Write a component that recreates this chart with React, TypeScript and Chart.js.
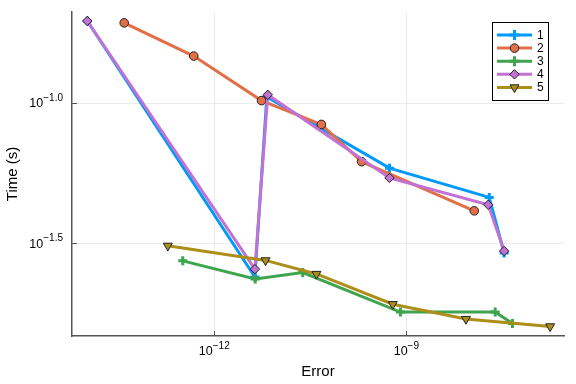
import React, { useEffect, useRef } from "react";
import { Chart, registerables } from "chart.js";

Chart.register(...registerables);

// ---- data (Error, Time) ----
const seriesLabels = ["1", "2", "3", "4", "5"];

const s1Err = [1.04e-14, 4.31e-12, 6.62e-12, 5.46e-10, 1.97e-8, 3.37e-8];
const s1Time = [0.196, 0.024, 0.105, 0.0586, 0.0461, 0.0292];

const s2Err = [3.92e-14, 4.78e-13, 5.47e-12, 4.71e-11, 2.0e-10, 1.15e-8];
const s2Time = [0.193, 0.147, 0.102, 0.0839, 0.0618, 0.0413];

const s3Err = [3.22e-13, 4.36e-12, 2.41e-11, 8.09e-10, 2.44e-8, 4.54e-8];
const s3Time = [0.0274, 0.0236, 0.0249, 0.018, 0.018, 0.0164];

const s4Err = [1.04e-14, 4.31e-12, 6.85e-12, 5.46e-10, 1.9e-8, 3.37e-8];
const s4Time = [0.196, 0.0256, 0.107, 0.0541, 0.0434, 0.0297];

const s5Err = [1.88e-13, 6.32e-12, 3.94e-11, 6.14e-10, 8.53e-9, 1.76e-7];
const s5Time = [0.031, 0.0275, 0.0246, 0.0192, 0.017, 0.016];

const xTicks = [1e-12, 1e-9];
const xTickBase = ["10", "10"];
const xTickExp = ["\u221212", "\u22129"];
const yTicks = [Math.pow(10, -1.0), Math.pow(10, -1.5)];
const yTickBase = ["10", "10"];
const yTickExp = ["\u22121.0", "\u22121.5"];

const xMin = 6.3e-15;
const xMax = 2.9e-7;
const yMin = 0.01479;
const yMax = 0.211;

const xTitle = "Error";
const yTitle = "Time (s)";

const FONT = '"Liberation Sans", "DejaVu Sans", sans-serif';
const colors = ["#009AFA", "#E36F47", "#3EA44E", "#C371D2", "#AC8E18"];
const markers = ["cross", "circle", "cross", "rectRot", "triangle"];
const axisColor = "#555555";
const BASE_PX = 12.5;
const EXP_PX = 10;

function zip(xs: number[], ys: number[]) {
  return xs.map((x, i) => ({ x, y: ys[i] }));
}

function drawMarker(ctx: CanvasRenderingContext2D, kind: string, x: number, y: number, color: string) {
  ctx.save();
  ctx.fillStyle = color;
  ctx.strokeStyle = "#222";
  ctx.lineWidth = 1;
  if (kind === "cross") {
    ctx.strokeStyle = color;
    ctx.lineWidth = 3;
    ctx.beginPath();
    ctx.moveTo(x - 5, y);
    ctx.lineTo(x + 5, y);
    ctx.moveTo(x, y - 5);
    ctx.lineTo(x, y + 5);
    ctx.stroke();
  } else if (kind === "circle") {
    ctx.beginPath();
    ctx.arc(x, y, 4.3, 0, Math.PI * 2);
    ctx.fill();
    ctx.stroke();
  } else if (kind === "rectRot") {
    const r = 4.7;
    ctx.beginPath();
    ctx.moveTo(x, y - r);
    ctx.lineTo(x + r, y);
    ctx.lineTo(x, y + r);
    ctx.lineTo(x - r, y);
    ctx.closePath();
    ctx.fill();
    ctx.stroke();
  } else if (kind === "triangle") {
    const r = 5.2;
    ctx.beginPath();
    ctx.moveTo(x, y + r);
    ctx.lineTo(x + r * 0.866, y - r * 0.5);
    ctx.lineTo(x - r * 0.866, y - r * 0.5);
    ctx.closePath();
    ctx.fill();
    ctx.stroke();
  }
  ctx.restore();
}

const overlayPlugin = {
  id: "overlay",
  afterDraw(chart: any) {
    const ctx: CanvasRenderingContext2D = chart.ctx;
    const { left, right, top, bottom } = chart.chartArea;
    const xs = chart.scales.x;
    const ys = chart.scales.y;
    ctx.save();

    // inward tick marks
    ctx.strokeStyle = axisColor;
    ctx.lineWidth = 1;
    ctx.beginPath();
    xTicks.forEach((v) => {
      const px = Math.round(xs.getPixelForValue(v)) + 0.5;
      ctx.moveTo(px, bottom);
      ctx.lineTo(px, bottom - 5);
    });
    yTicks.forEach((v) => {
      const py = Math.round(ys.getPixelForValue(v)) + 0.5;
      ctx.moveTo(left, py);
      ctx.lineTo(left + 5, py);
    });
    ctx.stroke();

    // tick labels
    ctx.fillStyle = "#000";
    ctx.textBaseline = "middle";
    xTicks.forEach((v, i) => {
      const px = xs.getPixelForValue(v);
      ctx.font = `${BASE_PX}px ${FONT}`;
      const w1 = ctx.measureText(xTickBase[i]).width;
      ctx.font = `${EXP_PX}px ${FONT}`;
      const w2 = ctx.measureText(xTickExp[i]).width;
      const start = px - (w1 + w2) / 2;
      ctx.textAlign = "left";
      ctx.font = `${BASE_PX}px ${FONT}`;
      ctx.fillText(xTickBase[i], start, bottom + 16);
      ctx.font = `${EXP_PX}px ${FONT}`;
      ctx.fillText(xTickExp[i], start + w1, bottom + 10);
    });
    yTicks.forEach((v, i) => {
      const py = ys.getPixelForValue(v);
      ctx.font = `${EXP_PX}px ${FONT}`;
      const w2 = ctx.measureText(yTickExp[i]).width;
      const end = left - 9;
      ctx.textAlign = "left";
      ctx.fillText(yTickExp[i], end - w2, py - 5);
      ctx.font = `${BASE_PX}px ${FONT}`;
      ctx.textAlign = "right";
      ctx.fillText(yTickBase[i], end - w2, py + 1);
    });

    // axis titles
    ctx.font = `15px ${FONT}`;
    ctx.textAlign = "center";
    ctx.fillText(xTitle, (left + right) / 2, 372);
    ctx.save();
    ctx.translate(13, (top + bottom) / 2);
    ctx.rotate(-Math.PI / 2);
    ctx.fillText(yTitle, 0, 0);
    ctx.restore();

    // legend
    const bx = 492.5, by = 22.5, bw = 56, bh = 78;
    ctx.fillStyle = "#fff";
    ctx.fillRect(bx, by, bw, bh);
    ctx.strokeStyle = "#000";
    ctx.lineWidth = 1;
    ctx.strokeRect(bx, by, bw, bh);
    seriesLabels.forEach((lab, i) => {
      const ry = 35 + i * 13.1;
      ctx.strokeStyle = colors[i];
      ctx.lineWidth = 3;
      ctx.beginPath();
      ctx.moveTo(497, ry);
      ctx.lineTo(532, ry);
      ctx.stroke();
      drawMarker(ctx, markers[i], 514.5, ry, colors[i]);
      ctx.fillStyle = "#000";
      ctx.font = `12px ${FONT}`;
      ctx.textAlign = "left";
      ctx.textBaseline = "middle";
      ctx.fillText(lab, 537, ry + 0.5);
    });

    ctx.restore();
  },
};

export default function App() {
  const ref = useRef<HTMLCanvasElement | null>(null);

  useEffect(() => {
    if (!ref.current) return;
    const series = [
      zip(s1Err, s1Time),
      zip(s2Err, s2Time),
      zip(s3Err, s3Time),
      zip(s4Err, s4Time),
      zip(s5Err, s5Time),
    ];
    const datasets = series.map((data, i) => {
      const m = markers[i];
      const isCross = m === "cross";
      return {
        label: seriesLabels[i],
        data,
        order: 4 - i,
        borderColor: colors[i],
        backgroundColor: colors[i],
        borderWidth: 3,
        tension: 0,
        pointStyle: m,
        pointRotation: m === "triangle" ? 180 : 0,
        pointRadius: isCross ? 4.5 : m === "triangle" ? 5.2 : m === "rectRot" ? 4.7 : 4.3,
        pointBackgroundColor: colors[i],
        pointBorderColor: isCross ? colors[i] : "#222",
        pointBorderWidth: isCross ? 3 : 1,
      };
    });

    const chart = new Chart(ref.current, {
      type: "line",
      data: { datasets },
      plugins: [overlayPlugin],
      options: {
        animation: false,
        responsive: false,
        devicePixelRatio: 1,
        layout: { padding: { left: 72, top: 12, right: 12, bottom: 48 } },
        plugins: { legend: { display: false }, tooltip: { enabled: false } },
        scales: {
          x: {
            type: "logarithmic",
            min: xMin,
            max: xMax,
            afterBuildTicks: (scale: any) => {
              scale.ticks = xTicks.map((v) => ({ value: v }));
            },
            ticks: { display: false },
            grid: { color: "rgba(0,0,0,0.08)", lineWidth: 1, drawTicks: false },
            border: { display: true, color: axisColor, width: 1.5 },
          },
          y: {
            type: "logarithmic",
            min: yMin,
            max: yMax,
            afterBuildTicks: (scale: any) => {
              scale.ticks = yTicks.map((v) => ({ value: v }));
            },
            ticks: { display: false },
            grid: { color: "rgba(0,0,0,0.08)", lineWidth: 1, drawTicks: false },
            border: { display: true, color: axisColor, width: 1.5 },
          },
        },
      } as any,
    });
    return () => chart.destroy();
  }, []);

  return (
    <div style={{ position: "absolute", left: 0, top: 0, width: 576, height: 384, background: "#fff" }}>
      <canvas ref={ref} width={576} height={384} style={{ width: 576, height: 384 }} />
    </div>
  );
}
